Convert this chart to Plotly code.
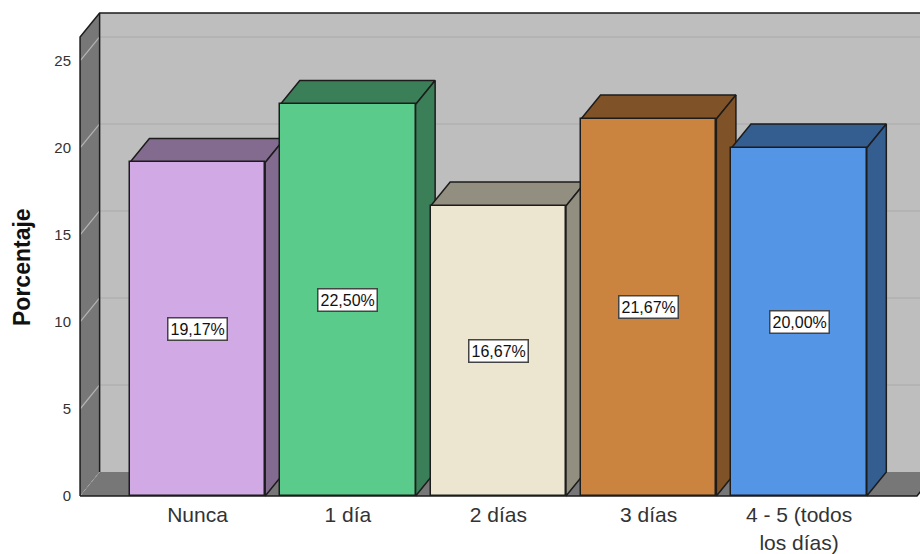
import plotly.graph_objects as go

categories = ["Nunca", "1 día", "2 días", "3 días", "4 - 5 (todos<br>los días)"]
values = [19.17, 22.50, 16.67, 21.67, 20.00]
labels = ["19,17%", "22,50%", "16,67%", "21,67%", "20,00%"]
front_colors = ["#D1AAE5", "#5BCB8B", "#ECE6D0", "#CA843F", "#5495E6"]
depth_colors = ["#826B8F", "#3A7F57", "#938F80", "#7F5327", "#345D90"]
y_ticks = [0, 5, 10, 15, 20, 25]

# Oblique-projection settings, in axis units
DX, DY = 0.13, 1.38
BAR_W = 0.9
X_LO, X_HI = -0.808, 4.804
Y_LO, Y_HI = -0.23, 27.93
WALL_L, WALL_R, WALL_TOP = -0.781, 4.784, 26.38
EDGE = "#1c1c1c"
WALL = "#777777"

fig = go.Figure()


def poly(xs, ys, fill=None, line=None, width=1.5, dash=None):
    fig.add_trace(go.Scatter(
        x=xs, y=ys, mode="lines",
        fill="toself" if fill else None,
        fillcolor=fill,
        line=dict(color=line or "rgba(0,0,0,0)", width=width if line else 0, dash=dash),
        hoverinfo="skip", showlegend=False, xaxis="x", yaxis="y"))


# Back wall, left wall, floor
bx, tb = WALL_L + DX, WALL_TOP + DY
poly([bx, X_HI + 1, X_HI + 1, bx, bx], [DY, DY, tb, tb, DY], fill="#BEBEBE")
poly([WALL_L, WALL_R, WALL_R + DX, X_HI + 1, X_HI + 1, bx, WALL_L], [0, 0, DY, DY, DY, DY, 0], fill=WALL)
poly([WALL_L, bx, bx, WALL_L, WALL_L], [0, DY, tb, WALL_TOP, 0], fill=WALL)

# Gridlines
for t in y_ticks[1:]:
    poly([bx, X_HI + 1], [t + DY, t + DY], line="#B0B0B0", width=1.5)
    poly([WALL_L, bx], [t, t + DY], line="#B4B4B4", width=1.2)
poly([WALL_L, bx], [0, DY], line="#A8A8A8", width=1, dash="dot")

# Wall edges
poly([WALL_L, WALL_L, bx, X_HI + 1], [0, WALL_TOP, tb, tb], line=EDGE, width=1.5)
poly([bx, bx], [DY, tb], line=EDGE, width=1.5)
poly([WALL_L, WALL_R, WALL_R + DX], [0, 0, DY], line=EDGE, width=1.5)

# Depth faces of the bars
for i, v in enumerate(values):
    l, r = i - BAR_W / 2, i + BAR_W / 2
    poly([l, r, r + DX, l + DX, l], [v, v, v + DY, v + DY, v],
         fill=depth_colors[i], line=EDGE)
    poly([r, r + DX, r + DX, r, r], [0, DY, v + DY, v, 0],
         fill=depth_colors[i], line=EDGE)

# Front faces
fig.add_trace(go.Bar(
    x=list(range(len(values))), y=values, width=BAR_W,
    marker=dict(color=front_colors, line=dict(color=EDGE, width=1.5)),
    hoverinfo="skip", showlegend=False, xaxis="x2", yaxis="y2"))

annotations = [dict(
    x=i, y=v / 2, xref="x2", yref="y2", text=lab, showarrow=False,
    font=dict(family="Liberation Sans", size=16, color="#111111"),
    bgcolor="white", bordercolor="#444444", borderwidth=1.5, borderpad=2)
    for i, (v, lab) in enumerate(zip(values, labels))]
annotations.append(dict(
    x=-0.064, y=0.4755, xref="paper", yref="paper", text="<b>Porcentaje</b>",
    xanchor="center", yanchor="middle",
    textangle=-90, showarrow=False,
    font=dict(family="Liberation Sans", size=23, color="#111111")))

fig.update_layout(
    width=920, height=554, autosize=False, bargap=0,
    margin=dict(l=76, r=0, t=10, b=54),
    paper_bgcolor="white", plot_bgcolor="white",
    annotations=annotations,
    xaxis=dict(range=[X_LO, X_HI], tickmode="array", automargin=False,
               tickvals=list(range(len(categories))), ticktext=categories,
               showgrid=False, zeroline=False, showline=False,
               ticks="outside", ticklen=0, tickcolor="rgba(0,0,0,0)",
               ticklabelstandoff=-4,
               tickfont=dict(family="Liberation Sans", size=21, color="#333333")),
    yaxis=dict(range=[Y_LO, Y_HI], tickmode="array", tickvals=y_ticks, automargin=False,
               showgrid=False, zeroline=False, showline=False,
               ticks="outside", ticklen=1, tickcolor="rgba(0,0,0,0)",
               tickfont=dict(family="Liberation Sans", size=15, color="#333333")),
    xaxis2=dict(range=[X_LO, X_HI], overlaying="x", visible=False),
    yaxis2=dict(range=[Y_LO, Y_HI], overlaying="y", visible=False),
)

# Let the figure fill the whole window instead of sitting inside the default page margin
fig.write_html("out.html", config={"displayModeBar": False},
               post_script="document.body.style.margin='0';document.body.style.overflow='hidden';")
